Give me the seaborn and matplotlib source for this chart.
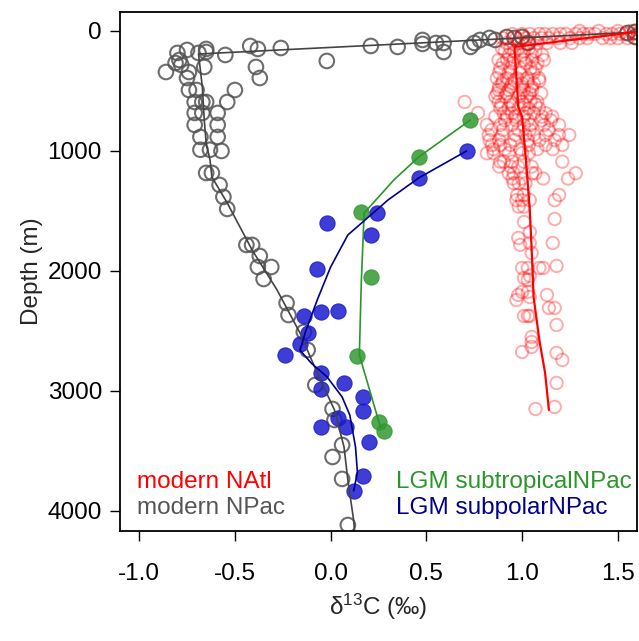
import numpy as np
import pandas as pd
import matplotlib
matplotlib.use("Agg")
import matplotlib.pyplot as plt
import seaborn as sns

# ---------------- data ----------------
# modern North Atlantic (open red circles)
natl_d13c = [1.30, 1.40, 1.50, 1.57, 1.62,
             0.95, 1.00, 1.04, 1.09, 1.12, 1.16, 1.20, 1.23, 1.28, 1.32, 1.35, 1.38, 1.44, 1.47, 1.51, 1.54, 1.58,
             0.90, 0.97, 1.02, 1.06, 1.10, 1.14, 1.19, 1.25, 1.30, 1.34, 1.42, 1.46, 1.50, 1.55, 1.60,
             0.92, 0.98, 1.03, 1.08, 1.13, 1.20, 1.26,
             0.895, 0.939, 0.982, 1.035,
             0.93, 1.00, 1.053, 1.105,
             0.877, 0.921, 0.956, 1.009, 1.053, 1.114,
             0.886, 0.939, 0.991, 1.044, 1.07,
             0.868, 0.921, 0.974, 1.026, 1.088,
             0.895, 0.947, 1.00, 1.061,
             0.877, 0.93, 1.009, 1.053,
             0.86, 0.912, 0.982, 1.026,
             0.70, 0.877, 0.939, 1.00, 1.044, 1.079,
             0.886, 0.93, 0.982, 1.035, 1.088,
             0.77, 0.904, 0.947, 1.018, 1.061, 1.123,
             0.86, 0.921, 0.965, 1.009, 1.105, 1.158,
             0.816, 0.886, 0.947, 1.009, 1.044, 1.114, 1.193,
             0.825, 0.895, 0.965, 1.018, 1.061, 1.123, 1.193, 1.246,
             0.842, 0.886, 0.939, 1.035, 1.123, 1.21,
             0.816, 0.851, 0.93, 1.00, 1.035,
             0.886, 0.904, 0.947, 1.009, 1.21,
             0.93, 0.956, 1.053, 1.07, 1.28,
             0.956, 0.982, 1.018,
             0.974, 1.009, 1.193,
             0.982, 1.009,
             0.97, 1.00, 1.04, 1.17,
             1.17, 1.01, 1.04, 0.98, 0.99, 1.04, 1.16, 1.05,
             1.00, 1.03, 1.09, 1.11, 1.18,
             1.01, 1.03, 1.04,
             0.98, 1.00, 1.03, 1.04, 0.97, 1.13,
             1.14, 1.17, 1.01, 1.03, 1.04, 1.18,
             1.05, 1.05, 1.05, 1.00, 1.18, 1.21, 1.18, 1.07, 1.17,
             # denser upper column, between the rows above
             0.91, 0.96, 1.01, 1.07,
             0.90, 0.95, 1.02, 1.08,
             0.88, 0.93, 0.99, 1.06,
             0.90, 0.96, 1.03, 1.09,
             0.88, 0.94, 1.00, 1.05,
             0.87, 0.92, 0.99, 1.04, 1.10,
             0.89, 0.95, 1.01, 1.07,
             0.91, 0.97, 1.03, 1.10, 1.15,
             0.84, 0.90, 0.98, 1.04, 1.14,
             0.83, 0.88, 0.96, 1.03, 1.09, 1.17,
             0.85, 0.91, 0.99, 1.08, 1.16,
             0.88, 0.94, 0.98, 1.05,
             0.95, 1.00, 1.11, 1.24]
natl_depth = [0, 0, 0, 0, 0,
              25, 25, 25, 25, 25, 25, 25, 25, 25, 25, 25, 25, 25, 25, 25, 25, 25,
              60, 60, 60, 60, 60, 60, 60, 60, 60, 60, 60, 60, 60, 60, 60,
              100, 100, 100, 100, 100, 100, 100,
              144, 144, 144, 144,
              200, 200, 200, 200,
              242, 242, 242, 242, 242, 242,
              311, 311, 311, 311, 311,
              394, 394, 394, 394, 394,
              436, 436, 436, 436,
              492, 492, 492, 492,
              547, 547, 547, 547,
              592, 589, 589, 589, 589, 589,
              644, 644, 644, 644, 644,
              683, 686, 686, 686, 686, 686,
              714, 714, 714, 714, 714, 714,
              783, 783, 783, 783, 783, 783, 783,
              867, 867, 867, 867, 867, 867, 867, 867,
              950, 950, 950, 950, 950, 950,
              1019, 1019, 1019, 1019, 1019,
              1089, 1089, 1089, 1089, 1089,
              1186, 1186, 1186, 1186, 1186,
              1269, 1269, 1269,
              1367, 1367, 1367,
              1464, 1464,
              1410, 1410, 1410, 1410,
              1567, 1592, 1675, 1725, 1783, 1767, 1767, 1850,
              1975, 1975, 1975, 1975, 1958,
              2058, 2075, 2040,
              2200, 2175, 2175, 2217, 2242, 2200,
              2308, 2308, 2375, 2375, 2375, 2450,
              2550, 2592, 2633, 2675, 2683, 2742, 2933, 3150, 3133,
              170, 170, 170, 170,
              270, 270, 270, 270,
              350, 350, 350, 350,
              415, 415, 415, 415,
              465, 465, 465, 465,
              520, 520, 520, 520, 520,
              615, 615, 615, 615,
              745, 745, 745, 745, 745,
              825, 825, 825, 825, 825,
              910, 910, 910, 910, 910, 910,
              985, 985, 985, 985, 985,
              1130, 1130, 1130, 1130,
              1230, 1230, 1230, 1230]

# modern North Pacific (open grey circles)
npac_d13c = [1.55, 1.59, 1.59, 1.00, 1.03, 0.96, 0.92, 0.86, 0.83, 0.78, 0.75, 0.73, 0.59, 0.59,
             0.55, 0.48, 0.48, 0.35, 0.21, -0.02, -0.26, -0.38, -0.42, -0.39, -0.37, -0.55, -0.50,
             -0.54, -0.86, -0.80, -0.75, -0.69, -0.65, -0.65, -0.79, -0.78, -0.81, -0.74, -0.75,
             -0.66, -0.74, -0.70, -0.71, -0.67, -0.65, -0.71, -0.67, -0.59, -0.71, -0.59, -0.68,
             -0.59, -0.68, -0.63, -0.57, -0.65, -0.62, -0.58, -0.56, -0.54, -0.44, -0.41, -0.37,
             -0.38, -0.31, -0.35, -0.23, -0.22, -0.14, -0.12, -0.08, 0.01, 0.02, 0.06, 0.01, 0.06,
             0.09]
npac_depth = [17, 8, 50, 50, 100, 58, 50, 75, 58, 75, 100, 133, 100, 175,
              100, 75, 108, 133, 125, 250, 142, 150, 125, 300, 392, 200, 492,
              592, 342, 183, 158, 183, 150, 175, 242, 283, 267, 342, 392,
              300, 492, 492, 592, 592, 592, 683, 683, 683, 783, 783, 883,
              883, 990, 990, 1000, 1183, 1183, 1283, 1383, 1483, 1783, 1783, 1875,
              1967, 1967, 2067, 2267, 2367, 2508, 2658, 2950, 3150, 3242, 3450, 3550, 3733,
              4117]

# LGM subtropical N Pacific (green filled)
sub_trop_d13c = [0.73, 0.46, 0.16, 0.21, 0.14, 0.25, 0.28]
sub_trop_depth = [742, 1050, 1508, 2050, 2708, 3258, 3333]

# LGM subpolar N Pacific (blue filled)
sub_pol_d13c = [0.71, 0.46, 0.24, -0.02, 0.21, -0.07, -0.14, -0.05, 0.04, -0.12, -0.16, -0.24,
                -0.05, 0.07, -0.05, 0.17, 0.17, 0.04, 0.08, -0.05, 0.20, 0.17, 0.12]
sub_pol_depth = [1000, 1225, 1517, 1600, 1700, 1983, 2375, 2342, 2333, 2517, 2608, 2700,
                 2850, 2933, 2983, 3050, 3167, 3225, 3300, 3300, 3425, 3708, 3833]

# smoothed profiles
natl_line_d13c = [1.64, 0.96, 0.98, 1.00, 1.02, 1.04, 1.05, 1.06, 1.09, 1.12, 1.14]
natl_line_depth = [0, 133, 633, 717, 1075, 1492, 1825, 2217, 2575, 2850, 3158]
npac_line_d13c = [1.62, -0.69, -0.67, -0.66, -0.65, -0.63, -0.62, -0.54, -0.41, -0.28, -0.16,
                  -0.07, 0.02, 0.07, 0.09, 0.12, 0.13]
npac_line_depth = [8, 192, 467, 742, 933, 1075, 1217, 1433, 1825, 2158, 2517,
                   2850, 3158, 3467, 3742, 4075, 4250]
trop_line_d13c = [0.73, 0.46, 0.33, 0.175, 0.16, 0.15, 0.26]
trop_line_depth = [742, 1050, 1242, 1517, 2100, 2700, 3300]
pol_line_d13c = [0.71, 0.46, 0.30, 0.09, 0.00, -0.07, -0.13, -0.16, -0.10, -0.02, 0.06, 0.10,
                 0.13, 0.14, 0.12]
pol_line_depth = [1000, 1225, 1408, 1700, 1967, 2242, 2500, 2660, 2770, 2880, 3050, 3200,
                  3467, 3680, 3833]

x_ticks = [-1.0, -0.5, 0.0, 0.5, 1.0, 1.5]
x_tick_labels = ["-1.0", "-0.5", "0.0", "0.5", "1.0", "1.5"]
y_ticks = [0, 1000, 2000, 3000, 4000]

# ---------------- style ----------------
sns.set_style("ticks")
plt.rcParams["font.family"] = ["Liberation Sans", "DejaVu Sans"]
plt.rcParams["mathtext.fontset"] = "custom"
plt.rcParams["mathtext.rm"] = "Liberation Sans"
plt.rcParams["mathtext.default"] = "regular"
plt.rcParams["axes.unicode_minus"] = False

FS = 17.5
RED = "#ff0000"
GREY = "#555555"
GREEN = "#339933"
BLUE = "#1c1ccf"
NAVY = "#00008b"

fig = plt.figure(figsize=(6.39, 6.41), dpi=100)
ax = fig.add_axes([120 / 639, 1 - 531 / 641, 517 / 639, 519 / 641])

natl = pd.DataFrame({"d13c": natl_d13c, "depth": natl_depth})
npac = pd.DataFrame({"d13c": npac_d13c, "depth": npac_depth})
trop = pd.DataFrame({"d13c": sub_trop_d13c, "depth": sub_trop_depth})
pol = pd.DataFrame({"d13c": sub_pol_d13c, "depth": sub_pol_depth})

# open circles
sns.scatterplot(data=npac, x="d13c", y="depth", ax=ax, marker="o", s=110,
                linewidth=1.5, legend=False)
ax.collections[-1].set_facecolor("none")
ax.collections[-1].set_edgecolor((0.33, 0.33, 0.33, 0.85))

sns.scatterplot(data=natl, x="d13c", y="depth", ax=ax, marker="o", s=80,
                linewidth=1.4, legend=False)
ax.collections[-1].set_facecolor("none")
ax.collections[-1].set_edgecolor((1.0, 0.0, 0.0, 0.33))

# filled circles
sns.scatterplot(data=trop, x="d13c", y="depth", ax=ax, marker="o", s=120,
                color=GREEN, alpha=0.85, edgecolor=GREEN, linewidth=0.8, legend=False)
sns.scatterplot(data=pol, x="d13c", y="depth", ax=ax, marker="o", s=120,
                color=BLUE, alpha=0.85, edgecolor=BLUE, linewidth=0.8, legend=False)

# profiles
def prof(xv, yv, color, lw):
    df = pd.DataFrame({"d13c": xv, "depth": yv})
    sns.lineplot(data=df, x="d13c", y="depth", sort=False, estimator=None, ax=ax,
                 color=color, linewidth=lw, legend=False)

prof(npac_line_d13c, npac_line_depth, "#444444", 1.2)
prof(natl_line_d13c, natl_line_depth, RED, 1.6)
prof(trop_line_d13c, trop_line_depth, "#2a962a", 1.2)
prof(pol_line_d13c, pol_line_depth, NAVY, 1.2)

# text legend
ax.text(-1.01, 3758, "modern NAtl", color=RED, fontsize=FS, va="center", ha="left")
ax.text(-1.01, 3975, "modern NPac", color=GREY, fontsize=FS, va="center", ha="left")
ax.text(0.34, 3758, "LGM subtropicalNPac", color="#2a962a", fontsize=FS, va="center", ha="left")
ax.text(0.34, 3975, "LGM subpolarNPac", color=NAVY, fontsize=FS, va="center", ha="left")

ax.set_xlim(-1.10, 1.60)
ax.set_ylim(4167, -158)
ax.set_xticks(x_ticks)
ax.set_xticklabels(x_tick_labels)
ax.set_yticks(y_ticks)
ax.set_yticklabels([str(t) for t in y_ticks])
ax.tick_params(axis="both", direction="out", length=7, width=1.0, labelsize=FS,
               color="black", labelcolor="black")
ax.tick_params(axis="x", pad=16)
ax.tick_params(axis="y", pad=6)
for sp in ax.spines.values():
    sp.set_visible(True)
    sp.set_linewidth(1.3)
    sp.set_color("black")

ax.set_xlabel("δ$^{13}$C (‰)", fontsize=FS, labelpad=5)
ax.set_ylabel("Depth (m)", fontsize=FS, labelpad=3)

fig.savefig("out.png", dpi=100)
